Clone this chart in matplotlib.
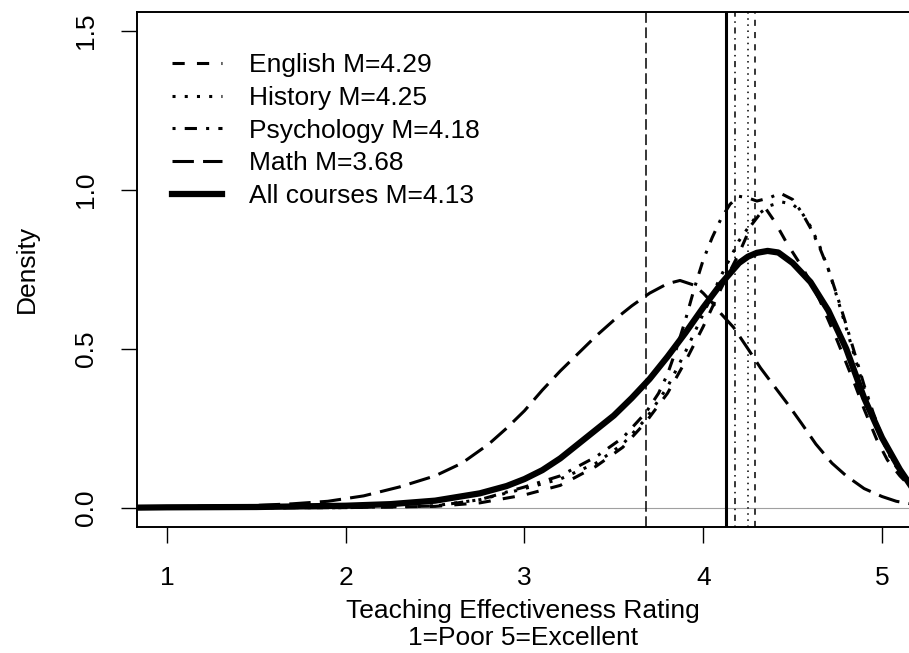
import matplotlib
matplotlib.use("Agg")
import matplotlib.pyplot as plt

# density curves (rating, density)
all_x = [0.83, 1.0, 1.5, 2.0, 2.25, 2.5, 2.75, 2.9, 3.0, 3.1, 3.2, 3.3, 3.4, 3.5, 3.6, 3.7, 3.8, 3.9,
         4.0, 4.1, 4.2, 4.25, 4.3, 4.36, 4.42, 4.5, 4.6, 4.7, 4.8, 4.9, 5.0, 5.1, 5.16]
all_y = [0.0, 0.001, 0.002, 0.006, 0.011, 0.022, 0.045, 0.068, 0.09, 0.118, 0.155, 0.2, 0.245, 0.29,
         0.345, 0.405, 0.475, 0.55, 0.63, 0.705, 0.77, 0.79, 0.802, 0.808, 0.803, 0.77, 0.71, 0.62,
         0.5, 0.345, 0.22, 0.12, 0.07]

math_x = [0.83, 1.0, 1.5, 1.7, 1.9, 2.1, 2.3, 2.5, 2.65, 2.8, 2.9, 3.0, 3.1, 3.2, 3.3, 3.4, 3.5, 3.6,
          3.7, 3.8, 3.87, 3.95, 4.0, 4.05, 4.1, 4.17, 4.25, 4.32, 4.4, 4.47, 4.55, 4.63, 4.72, 4.8,
          4.9, 5.0, 5.08, 5.16]
math_y = [0.002, 0.003, 0.007, 0.012, 0.02, 0.037, 0.065, 0.1, 0.14, 0.2, 0.25, 0.305, 0.37, 0.43,
          0.485, 0.54, 0.59, 0.635, 0.675, 0.705, 0.715, 0.70, 0.675, 0.645, 0.61, 0.567, 0.5, 0.44,
          0.38, 0.328, 0.265, 0.2, 0.14, 0.1, 0.06, 0.035, 0.02, 0.012]

psy_x = [0.83, 2.0, 2.5, 2.75, 3.0, 3.2, 3.4, 3.55, 3.68, 3.75, 3.8, 3.85, 3.9, 3.95, 4.0, 4.05, 4.1,
         4.15, 4.2, 4.25, 4.3, 4.37, 4.43, 4.5, 4.55, 4.6, 4.65, 4.7, 4.75, 4.8, 4.85, 4.9, 4.95,
         5.0, 5.05, 5.1, 5.16]
psy_y = [0.0, 0.0, 0.005, 0.025, 0.065, 0.1, 0.16, 0.22, 0.3, 0.36, 0.42, 0.5, 0.59, 0.69, 0.78,
         0.85, 0.91, 0.955, 0.98, 0.975, 0.965, 0.975, 0.99, 0.97, 0.93, 0.88, 0.82, 0.75, 0.665,
         0.575, 0.48, 0.385, 0.3, 0.225, 0.16, 0.115, 0.07]

hist_x = [0.83, 2.0, 2.5, 2.75, 3.0, 3.2, 3.4, 3.55, 3.68, 3.8, 3.9, 4.0, 4.1, 4.2, 4.3, 4.37, 4.44,
          4.5, 4.55, 4.6, 4.65, 4.7, 4.75, 4.8, 4.85, 4.9, 4.95, 5.0, 5.05, 5.1, 5.16]
hist_y = [0.0, 0.0, 0.006, 0.025, 0.06, 0.09, 0.14, 0.2, 0.28, 0.38, 0.49, 0.61, 0.73, 0.84, 0.92,
          0.95, 0.962, 0.955, 0.93, 0.885, 0.825, 0.75, 0.66, 0.565, 0.47, 0.375, 0.29, 0.215,
          0.155, 0.11, 0.07]

eng_x = [0.83, 2.0, 2.5, 2.75, 3.0, 3.2, 3.4, 3.55, 3.68, 3.8, 3.9, 4.0, 4.1, 4.2, 4.27, 4.345, 4.4,
         4.47, 4.55, 4.6, 4.65, 4.7, 4.75, 4.8, 4.85, 4.9, 4.97, 5.03, 5.1, 5.16]
eng_y = [0.0, 0.0, 0.004, 0.015, 0.04, 0.07, 0.13, 0.19, 0.27, 0.36, 0.46, 0.57, 0.69, 0.8, 0.89,
         0.945, 0.9, 0.83, 0.76, 0.71, 0.655, 0.59, 0.525, 0.455, 0.385, 0.31, 0.215, 0.15, 0.1,
         0.065]

labels = ["English M=4.29", "History M=4.25", "Psychology M=4.18", "Math M=3.68", "All courses M=4.13"]
means = [4.29, 4.25, 4.18, 3.68, 4.13]

# R line types: dashed, dotted, dotdash, longdash, solid
dashes = [(4, 4), (1, 3), (1, 3, 4, 3), (7, 3), None]
curve_lw = [2.2, 2.2, 2.2, 2.2, 4.5]
vline_lw = [1.1, 1.1, 1.1, 1.1, 2.2]

plt.rcParams["font.family"] = ["Liberation Sans", "DejaVu Sans"]
plt.rcParams["font.size"] = 19

fig = plt.figure(figsize=(9.09, 6.53), dpi=100)
ax = fig.add_axes([137.3 / 909, 1 - 526.7 / 653, 1 - 137.3 / 909, (526.7 - 12) / 653])

ax.axhline(0, color="#a0a0a0", lw=0.8, zorder=1)

series = [(eng_x, eng_y), (hist_x, hist_y), (psy_x, psy_y), (math_x, math_y), (all_x, all_y)]
for (xs, ys), lab, dsh, lw in zip(series, labels, dashes, curve_lw):
    line, = ax.plot(xs, ys, color="black", lw=lw, label=lab, solid_joinstyle="round")
    if dsh is not None:
        line.set_dashes(dsh)

for m, dsh, lw in zip(means, dashes, vline_lw):
    vl = ax.axvline(m, color="black", lw=lw)
    if dsh is not None:
        vl.set_dashes(dsh)

ax.set_xlim(0.834, 5.151)
ax.set_ylim(-0.06, 1.56)
ax.set_xticks([1, 2, 3, 4, 5])
ax.set_yticks([0, 0.5, 1.0, 1.5])
ax.set_yticklabels(["0.0", "0.5", "1.0", "1.5"], rotation=90, va="center")
ax.tick_params(direction="out", length=11.5, width=1.0, pad=17)
for side in ["left", "bottom", "top"]:
    ax.spines[side].set_linewidth(1.4)
ax.spines["right"].set_visible(False)

ax.set_xlabel("Teaching Effectiveness Rating\n1=Poor 5=Excellent", linespacing=1.15)
ax.xaxis.set_label_coords(0.5, -0.14)
ax.set_ylabel("Density")
ax.yaxis.set_label_coords(-0.127, 0.5)

ax.legend(loc="upper left", bbox_to_anchor=(0.045, 0.92), frameon=False, borderpad=0,
          borderaxespad=0, handlelength=1.9, handletextpad=1.0, labelspacing=0.33)

fig.savefig("out.png", dpi=100)
